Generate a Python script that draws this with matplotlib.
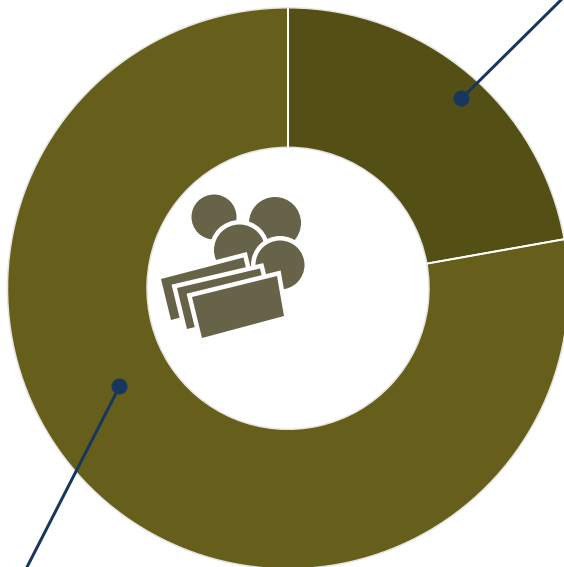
import numpy as np
import matplotlib
matplotlib.use('Agg')
import matplotlib.pyplot as plt
from matplotlib.patches import Circle, Polygon

# share of each slice, clockwise from 12 o'clock
values = [22.2, 77.8]
slice_colors = ['#544f14', '#655f1b']

ICON_COLOR = '#666349'
LINE_COLOR = '#17375e'
PX = 72 / 100  # one pixel in points at dpi 100

fig = plt.figure(figsize=(5.64, 5.67), dpi=100)
ax = fig.add_axes([0, 0, 1, 1])

# y axis runs downward so everything below is in picture pixels,
# which also makes the pie go clockwise from startangle=-90
center = (288, 288.3)
outer_r = 280.5
inner_r = 141
wedges, _ = ax.pie(values, colors=slice_colors, center=center, radius=outer_r,
                   startangle=-90, counterclock=True,
                   wedgeprops=dict(width=outer_r - inner_r, edgecolor='#e6e5e0', linewidth=1.5 * PX))

ax.set_xlim(0, 564)
ax.set_ylim(567, 0)
ax.set_aspect('equal')
ax.axis('off')

# white separators between the slices
for w in wedges:
    t = np.deg2rad(w.theta1)
    ax.plot([center[0] + inner_r * np.cos(t), center[0] + outer_r * np.cos(t)],
            [center[1] + inner_r * np.sin(t), center[1] + outer_r * np.sin(t)],
            color='white', lw=2 * PX, zorder=3, solid_capstyle='butt')


# icon: coins behind banknotes, each piece with a white halo
def add_piece(patch_cls, *args, halo=True, z=4, **kwargs):
    if halo:
        ax.add_patch(patch_cls(*args, facecolor='white', edgecolor='white',
                               lw=9 * PX, zorder=z, **kwargs))
    ax.add_patch(patch_cls(*args, facecolor=ICON_COLOR, edgecolor='none', zorder=z + 0.1, **kwargs))


add_piece(Circle, (214, 217), 22.5, halo=False, z=4)
add_piece(Circle, (275, 223), 26, halo=False, z=4)
add_piece(Circle, (239.5, 250), 25.5, z=5)
add_piece(Circle, (280, 265), 24.5, z=6)

notes = [
    [(161, 279), (243.5, 257.5), (253, 298), (171, 320)],
    [(177, 288), (260, 268.5), (270, 309), (187, 329)],
    [(192, 297), (277, 276), (284, 316), (202, 338)],
]
for i, corners in enumerate(notes):
    add_piece(Polygon, corners, z=7 + i, joinstyle='miter')

# leader lines with dots
leaders = [((461.5, 98.5), (566, -5)), ((119.5, 386.5), (26, 569))]
for dot, end in leaders:
    ax.plot([dot[0], end[0]], [dot[1], end[1]], color=LINE_COLOR, lw=3 * PX, zorder=11)
    ax.add_patch(Circle(dot, 8, facecolor=LINE_COLOR, edgecolor='none', zorder=12))

fig.savefig('out.png', dpi=100, facecolor='white')
